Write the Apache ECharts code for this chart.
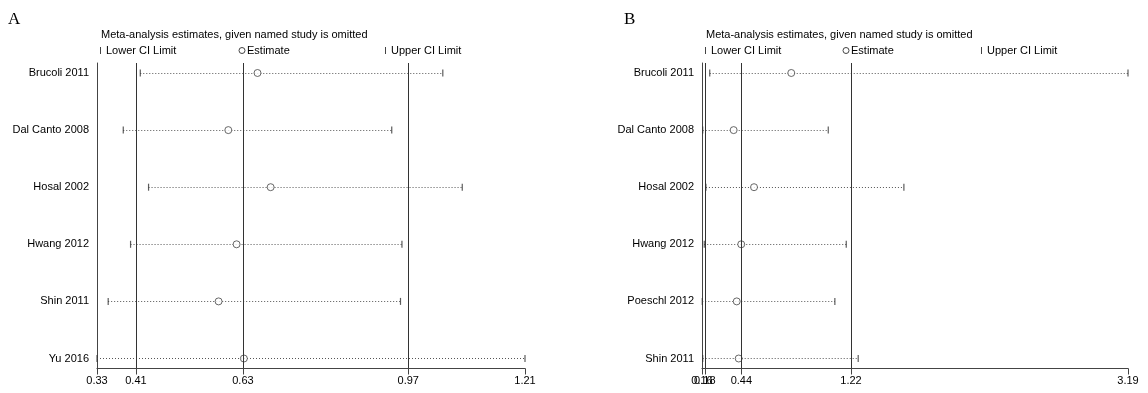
<!DOCTYPE html>
<html>
<head>
<meta charset="utf-8">
<script src="https://cdn.jsdelivr.net/npm/echarts@6/dist/echarts.min.js"></script>
<style>
  html, body { margin: 0; padding: 0; background: #fff; }
  #main { width: 1148px; height: 393px; }
</style>
</head>
<body>
<div id="main"></div>
<script>
// Panel A
var studiesA = ['Brucoli 2011', 'Dal Canto 2008', 'Hosal 2002', 'Hwang 2012', 'Shin 2011', 'Yu 2016'];
var lowerA = [0.419, 0.384, 0.436, 0.399, 0.353, 0.33];
var estimateA = [0.660, 0.600, 0.687, 0.617, 0.580, 0.632];
var upperA = [1.041, 0.936, 1.081, 0.957, 0.954, 1.21];
var ticksA = [0.33, 0.41, 0.63, 0.97, 1.21];
var overallA = [0.41, 0.63, 0.97];

// Panel B
var studiesB = ['Brucoli 2011', 'Dal Canto 2008', 'Hosal 2002', 'Hwang 2012', 'Poeschl 2012', 'Shin 2011'];
var lowerB = [0.215, 0.165, 0.188, 0.176, 0.162, 0.165];
var estimateB = [0.795, 0.385, 0.530, 0.439, 0.407, 0.421];
var upperB = [3.19, 1.058, 1.596, 1.186, 1.105, 1.271];
var ticksB = [0.16, 0.18, 0.44, 1.22, 3.19];
var overallB = [0.18, 0.44, 1.22];

var FONT = 'Liberation Sans, Arial, sans-serif';
var ROW_PAD = 0.175;
var chart = echarts.init(document.getElementById('main'));

// labels that sit too close together get their own overlay axis so none is dropped
function xAxesFor(idx, ticks) {
    var main = [], extra = [];
    ticks.forEach(function (t, i) {
        if (i > 0 && i < ticks.length - 1 && t - ticks[i - 1] < (ticks[ticks.length - 1] - ticks[0]) * 0.03) extra.push(t);
        else main.push(t);
    });
    function axis(vals, showLine) {
        return {
            type: 'value',
            gridIndex: idx,
            position: 'bottom',
            offset: 0,
            z: 10,
            min: ticks[0],
            max: ticks[ticks.length - 1],
            axisLine: { show: showLine, onZero: false, lineStyle: { color: '#444', width: 1.2 } },
            axisTick: { show: true, customValues: vals, length: 6, lineStyle: { color: '#444' } },
            axisLabel: {
                customValues: vals, margin: 7, color: '#000', fontSize: 11, fontFamily: FONT,
                showMinLabel: true, showMaxLabel: true, hideOverlap: false,
                formatter: function (v) { return v.toFixed(2); }
            },
            splitLine: { show: false }
        };
    }
    var out = [axis(main, true)];
    if (extra.length) out.push(axis(extra, false));
    return out;
}

function yAxisFor(idx, studies) {
    return {
        type: 'value',
        gridIndex: idx,
        inverse: true,
        min: -ROW_PAD,
        max: studies.length - 1 + ROW_PAD,
        axisLine: { show: true, onZero: false, lineStyle: { color: '#444', width: 1 } },
        axisTick: { show: false },
        axisLabel: {
            customValues: studies.map(function (s, i) { return i; }),
            margin: 8, color: '#000', fontSize: 11, fontFamily: FONT,
            formatter: function (v) { return studies[Math.round(v)] || ''; }
        },
        splitLine: { show: false }
    };
}

function seriesFor(xIdx, yIdx, studies, lower, est, upper, overall) {
    var caps = [];
    studies.forEach(function (s, i) {
        caps.push([lower[i], i]);
        caps.push([upper[i], i]);
    });
    return [{
        type: 'lines',
        coordinateSystem: 'cartesian2d',
        xAxisIndex: xIdx, yAxisIndex: yIdx,
        silent: true,
        lineStyle: { color: '#555', width: 1, type: [1, 2], opacity: 1 },
        data: studies.map(function (s, i) {
            return { coords: [[lower[i], i], [upper[i], i]] };
        })
    }, {
        type: 'scatter',
        xAxisIndex: xIdx, yAxisIndex: yIdx,
        silent: true,
        symbol: 'rect',
        symbolSize: [1.2, 7],
        itemStyle: { color: '#333' },
        data: caps
    }, {
        type: 'scatter',
        xAxisIndex: xIdx, yAxisIndex: yIdx,
        silent: true,
        symbol: 'circle',
        symbolSize: 7,
        itemStyle: { color: '#fff', borderColor: '#444', borderWidth: 1 },
        data: est.map(function (v, i) { return [v, i]; }),
        markLine: {
            silent: true,
            symbol: ['none', 'none'],
            label: { show: false },
            lineStyle: { color: '#333', type: 'solid', width: 1 },
            data: overall.map(function (v) { return { xAxis: v }; })
        }
    }];
}

function headerFor(letter, letterX, base, estX, upX) {
    var txt = { fill: '#000', font: '11px ' + FONT, textVerticalAlign: 'middle' };
    return [
        { type: 'text', left: letterX, top: 11, style: { text: letter, fill: '#000', font: '17px Liberation Serif, Times New Roman, serif' } },
        { type: 'text', x: base + 4, y: 35, style: Object.assign({ text: 'Meta-analysis estimates, given named study is omitted' }, txt) },
        { type: 'rect', shape: { x: base + 3, y: 47, width: 1, height: 7 }, style: { fill: '#444' } },
        { type: 'text', x: base + 9, y: 50.5, style: Object.assign({ text: 'Lower CI Limit' }, txt) },
        { type: 'circle', shape: { cx: estX + 3, cy: 50.5, r: 3 }, style: { fill: '#fff', stroke: '#444', lineWidth: 1 } },
        { type: 'text', x: estX + 8, y: 50.5, style: Object.assign({ text: 'Estimate' }, txt) },
        { type: 'rect', shape: { x: upX, y: 47, width: 1, height: 7 }, style: { fill: '#444' } },
        { type: 'text', x: upX + 6, y: 50.5, style: Object.assign({ text: 'Upper CI Limit' }, txt) }
    ];
}

var xA = xAxesFor(0, ticksA);
var xB = xAxesFor(1, ticksB);

chart.setOption({
    animation: false,
    backgroundColor: '#fff',
    grid: [
        { left: 97, top: 63, width: 428, height: 305.5, containLabel: false },
        { left: 702, top: 63, width: 426, height: 305.5, containLabel: false }
    ],
    xAxis: xA.concat(xB),
    yAxis: [yAxisFor(0, studiesA), yAxisFor(1, studiesB)],
    series: seriesFor(0, 0, studiesA, lowerA, estimateA, upperA, overallA)
        .concat(seriesFor(xA.length, 1, studiesB, lowerB, estimateB, upperB, overallB)),
    graphic: headerFor('A', 8, 97, 239, 385).concat(headerFor('B', 624, 702, 843, 981))
});
</script>
</body>
</html>
